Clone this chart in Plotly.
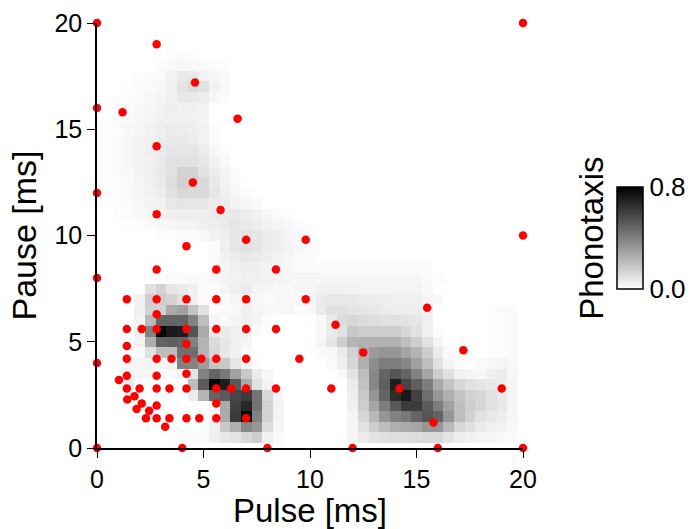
import numpy as np
import plotly.graph_objects as go

# Stimulus grid: pulse and pause durations in ms
pulse_grid = [i * 0.5 for i in range(41)]
pause_grid = [j * 0.5 for j in range(41)]
phonotaxis_max = 0.8
full_scale = 255  # the table below is in units of phonotaxis_max / full_scale

# (pause row index, first pulse index, phonotaxis values along the row)
phonotaxis_rows = [
    (1, 7, [2,3,3,5,15,23,27,40,50,15,5]), (1, 24, [10,20,27,30,33,33,35,37,37,27,17,15,10,10,7,5]),
    (2, 11, [15,55,80,120,105,35,10]), (2, 24, [10,30,50,65,80,85,90,105,105,70,40,30,20,15,13,7]),
    (3, 11, [8,85,195,245,125,45,10]), (3, 24, [10,40,70,105,125,135,155,170,155,105,65,45,30,23,17,9]),
    (4, 11, [10,85,190,215,140,45,12]), (4, 24, [15,50,90,130,165,195,195,165,130,95,65,50,40,30,23,10]),
    (5, 9, [20,75,155,165,185,195,140,40,8]), (5, 24, [17,55,105,155,210,230,190,145,105,80,60,45,40,30,20,10]),
    (6, 3, [20]), (6, 9, [65,165,245,225,165,85,30,12]), (6, 24, [20,60,120,160,225,185,160,130,85,60,40,30,25,23,17,9]),
    (7, 3, [10,10,8,5,5,12,25,125,155,135,95,55,20,8]), (7, 23, [7,27,65,120,155,170,155,125,90,50,30,15,10,7,15,20,9]),
    (8, 3, [8,10,12,10,12,125,125,100,60,55,25,10,3]), (8, 22, [5,15,40,80,115,130,130,120,95,65,30,10,3,0,5,7,10,7]),
    (9, 3, [3,5,30,65,65,145,145,75,40,23,15,5]), (9, 21, [5,7,20,45,80,100,105,105,90,75,50,20,5]), (9, 37, [2,4,4]),
    (10, 4, [12,80,155,160,155,125,75,35,23,15,10]), (10, 20, [2,10,25,50,75,77,77,77,77,65,50,30,10]), (10, 37, [2,4,4]),
    (11, 4, [15,125,250,230,225,170,85,20,20,15,15,5]), (11, 21, [7,20,30,55,50,50,50,50,40,30,15,3]), (11, 37, [2,4,4]),
    (12, 4, [12,70,155,155,155,125,65,10,5,10,15,10,3]), (12, 20, [1,7,20,35,40,35,33,30,30,27,25,15]), (12, 37, [2,4,4]),
    (13, 4, [15,45,45,85,95,60,30,5,5,7,15,10,7,7,9]), (13, 19, [3,7,20,30,30,27,25,23,20,17,17,17,15]), (13, 37, [2,4,4]),
    (14, 4, [15,50,50,45,30,15,5,2,5,10,12,7,5,7,7]), (14, 19, [7,10,20,23,23,23,20,19,17,15,15,15,10,7]),
    (15, 5, [30,45,25,20,15,5,0,10,15,20,10,9,7,7]), (15, 19, [10,10,13,13,13,12,11,11,11,11,11,11,7]),
    (16, 6, [3,5,5,7,5,8,11,13,15,15,13,11,9,9,9,9,9,9,9,9,9,9,9,9,9,5,3]),
    (17, 11, [3,10,15,17,15,13,10,8,5,5,4,4,4,4,4,4,4,4,4,4,4]),
    (18, 11, [5,13,19,23,21,17,13,9,5,3]),
    (19, 11, [5,15,25,30,27,20,15,11,7,3]),
    (20, 6, [3,3,4,5,7,13,17,25,27,25,20,15,10,7,3]),
    (21, 3, [2,3,5,7,9,11,11,15,17,20,25,21,17,13,10,7,3]),
    (22, 2, [2,4,6,8,11,15,17,17,17,20,20,22,17,13,9,5,3]),
    (23, 2, [3,5,8,11,13,23,26,25,25,20,18,12,8,4]),
    (24, 1, [2,4,6,9,13,19,29,39,37,37,25,15,8,4]),
    (25, 1, [2,4,6,10,15,21,33,46,46,37,22,13,6]),
    (26, 1, [2,5,7,11,16,22,30,44,44,30,19,11,4]),
    (27, 1, [2,5,8,11,15,21,30,30,30,24,13,6]),
    (28, 1, [2,5,8,11,16,21,25,26,26,19,8,3]),
    (29, 1, [2,5,8,11,14,18,22,22,19,13,4]),
    (30, 1, [2,4,7,9,14,16,20,18,16,13,3]),
    (31, 2, [3,6,8,11,14,15,14,14,11]),
    (32, 2, [3,4,8,9,13,16,14,14,13,1]),
    (33, 3, [3,4,7,10,15,22,22,19,8,4]),
    (34, 3, [2,4,6,8,15,28,36,30,13,6]),
    (35, 4, [3,4,6,13,21,21,13,8,4]),
    (36, 6, [4,6,8,7,6,4,3]),
    (37, 7, [3,4,3]),
]

# Tested stimuli
tested_pulse = [0,0,0,0,0,0, 2.8,4.6,1.2,6.6,2.8,4.5,2.8,5.8,7,9.8,4.2,
                2.8,5.6,8.4, 1.4,2.8,4.2,5.6,7,9.8, 2.8,
                1.4,2.1,2.8,4.2,5.6,7,8.4, 4.2,1.4,
                1.4,2.8,3.5,4.2,4.9,5.6,7, 4.2,1.4,2.8,1.03,
                1.4,2,2.8,3.4,4.2,5.6,6.3,7,8.4,
                1.76,1.42,2.1,5.6,2.8,1.86,2.45,
                2.3,2.8,3.4,4.2,4.8,5.6,7,3.2, 4,8,
                11.2,15.5,9.5,12.5,17.2,11,14.2,19,15.8,12,16,20,20,20]
tested_pause = [0,4,8,12,16,20, 19,17.2,15.8,15.5,14.2,12.5,11,11.2,9.8,9.8,9.5,
                8.4,8.4,8.4, 7,7,7,7,7,7, 6.3,
                5.6,5.6,5.6,5.6,5.6,5.6,5.6, 4.9,4.8,
                4.2,4.2,4.2,4.2,4.2,4.2,4.2, 3.5,3.4,3.4,3.2,
                2.8,2.8,2.8,2.8,2.8,2.8,2.8,2.8,2.8,
                2.44,2.28,2.1,2.1,2,1.84,1.75,
                1.4,1.4,1.4,1.4,1.4,1.4,1.4,1.0, 0,0,
                5.8,6.6,4.2,4.5,4.6,2.8,2.8,2.8,1.2,0,0,0,10,20]

axis_ticks = [0, 5, 10, 15, 20]
colorbar_ticks = [0.0, 0.8]
colorbar_labels = ["0.0", "0.8"]

z = np.zeros((len(pause_grid), len(pulse_grid)))
for row, start, vals in phonotaxis_rows:
    z[row, start:start + len(vals)] = np.array(vals) / full_scale * phonotaxis_max

FONT = "Liberation Sans"
INK = "black"

fig = go.Figure()
fig.add_trace(go.Heatmap(
    x=pulse_grid, y=pause_grid, z=z, zmin=0, zmax=phonotaxis_max,
    colorscale=[[0, "#ffffff"], [1, "#000000"]], zsmooth=False, hoverinfo="skip",
    colorbar=dict(
        x=1.2205, xanchor="left", y=0.494, yanchor="middle",
        lenmode="pixels", len=102, thicknessmode="pixels", thickness=26,
        outlinecolor=INK, outlinewidth=1.5, ticks="", tickmode="array",
        tickvals=colorbar_ticks, ticktext=colorbar_labels, xpad=0, ypad=0,
        tickfont=dict(family=FONT, size=26, color=INK),
    ),
))
fig.add_trace(go.Scatter(
    x=tested_pulse, y=tested_pause, mode="markers", cliponaxis=False,
    marker=dict(color="#ff0000", size=8.5, line=dict(width=0)), hoverinfo="skip",
    showlegend=False,
))

axis_style = dict(
    range=[0, 20], tickmode="array", tickvals=axis_ticks, ticks="outside", ticklen=8,
    tickwidth=1.4, tickcolor=INK, showline=True, linecolor=INK, linewidth=1.5,
    automargin=False, showgrid=False, zeroline=False,
    tickfont=dict(family=FONT, size=25, color=INK),
)
fig.update_layout(
    width=692, height=529, autosize=False, paper_bgcolor="white", plot_bgcolor="white",
    margin=dict(l=97, r=169, t=23, b=81), showlegend=False,
    xaxis=dict(**axis_style, title=dict(text="Pulse [ms]", font=dict(family=FONT, size=33, color=INK), standoff=6)),
    yaxis=dict(**axis_style, title=dict(text="Pause [ms]", font=dict(family=FONT, size=34, color=INK), standoff=8)),
    annotations=[dict(text="Phonotaxis", xref="paper", yref="paper", x=1.159, y=0.494, xanchor="center",
                      yanchor="middle", textangle=-90, showarrow=False,
                      font=dict(family=FONT, size=33, color=INK))],
)
fig.write_html("out.html", config={"displayModeBar": False}, post_script="document.body.style.margin='0';")
